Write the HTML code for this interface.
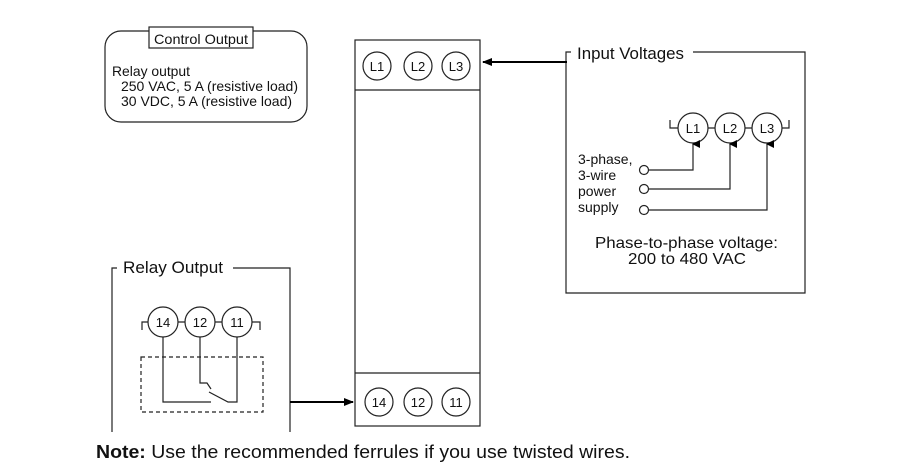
<!DOCTYPE html>
<html><head><meta charset="utf-8"><style>
html,body{margin:0;padding:0;background:#fff;width:900px;height:474px;overflow:hidden}
svg{display:block}
text{font-family:"Liberation Sans",Arial,sans-serif;fill:#111}
</style></head><body>
<svg width="900" height="474" viewBox="0 0 900 474" xmlns="http://www.w3.org/2000/svg">
<defs><marker id="ah" markerWidth="10" markerHeight="8" refX="9" refY="4" orient="auto" markerUnits="userSpaceOnUse"><path d="M0,0 L10,4 L0,8 z" fill="#000"/></marker>
<marker id="sa" markerWidth="8" markerHeight="8" refX="4" refY="1" orient="auto" markerUnits="userSpaceOnUse"><path d="M0,8 L4,0 L8,8 z" fill="#000"/></marker></defs>
<g fill="none" stroke="#222" stroke-width="1.2">
<rect x="105" y="31" width="202" height="91" rx="16" ry="16"/>
<rect x="149" y="27" width="104" height="21" fill="#fff"/>
<rect x="355" y="40" width="125" height="386"/>
<line x1="355" y1="90" x2="480" y2="90"/>
<line x1="355" y1="373" x2="480" y2="373"/>
<circle cx="377" cy="66" r="14"/><circle cx="418" cy="66" r="14"/><circle cx="456" cy="66" r="14"/>
<circle cx="379" cy="402" r="14"/><circle cx="418" cy="402" r="14"/><circle cx="456" cy="402" r="14"/>
<path d="M571,52 L566,52 L566,293 L805,293 L805,52 L693,52"/>
<circle cx="693" cy="128" r="15"/><circle cx="730" cy="128" r="15"/><circle cx="767" cy="128" r="15"/>
<path d="M670,120 L670,128 L678,128 M708,128 L715,128 M745,128 L752,128 M782,128 L789,128 L789,120"/>
<circle cx="644" cy="170" r="4.5"/><circle cx="644" cy="189" r="4.5"/><circle cx="644" cy="210" r="4.5"/>
<path d="M649,170 L693,170 L693,144" marker-end="url(#sa)"/>
<path d="M649,189 L730,189 L730,144" marker-end="url(#sa)"/>
<path d="M649,210 L767,210 L767,144" marker-end="url(#sa)"/>
<path d="M117,268 L112,268 L112,432 M290,432 L290,268 L233,268"/>
<circle cx="163" cy="322" r="15"/><circle cx="200" cy="322" r="15"/><circle cx="237" cy="322" r="15"/>
<path d="M142,330 L142,322 L148,322 M178,322 L185,322 M215,322 L222,322 M252,322 L260,322 L260,330"/>
<rect x="141" y="357" width="122" height="55" stroke-dasharray="4,3"/>
<path d="M163,337 L163,402 L211,402"/>
<path d="M200,337 L200,383 L207,383 L211,389"/>
<path d="M237,337 L237,402 L228,402 L209,392"/>
</g>
<line x1="567" y1="62" x2="483" y2="62" stroke="#000" stroke-width="2" marker-end="url(#ah)"/>
<line x1="290" y1="402" x2="353" y2="402" stroke="#000" stroke-width="2" marker-end="url(#ah)"/>
<g font-size="14">
<text x="154" y="44" textLength="94" lengthAdjust="spacingAndGlyphs">Control Output</text>
<text x="112" y="76" textLength="78" lengthAdjust="spacingAndGlyphs">Relay output</text>
<text x="121" y="91" textLength="177" lengthAdjust="spacingAndGlyphs">250 VAC, 5 A (resistive load)</text>
<text x="121" y="106" textLength="171" lengthAdjust="spacingAndGlyphs">30 VDC, 5 A (resistive load)</text>
</g>
<g font-size="13" text-anchor="middle">
<text x="377" y="71">L1</text><text x="418" y="71">L2</text><text x="456" y="71">L3</text>
<text x="379" y="407">14</text><text x="418" y="407">12</text><text x="456" y="407">11</text>
<text x="693" y="133">L1</text><text x="730" y="133">L2</text><text x="767" y="133">L3</text>
<text x="163" y="327">14</text><text x="200" y="327">12</text><text x="237" y="327">11</text>
</g>
<text x="577" y="59" font-size="17" textLength="107" lengthAdjust="spacingAndGlyphs">Input Voltages</text>
<text x="123" y="273" font-size="17" textLength="100" lengthAdjust="spacingAndGlyphs">Relay Output</text>
<g font-size="14">
<text x="578" y="164">3-phase,</text><text x="578" y="180">3-wire</text>
<text x="578" y="196">power</text><text x="578" y="212">supply</text>
</g>
<g font-size="16">
<text x="595" y="248" textLength="183" lengthAdjust="spacingAndGlyphs">Phase-to-phase voltage:</text>
<text x="628" y="264" textLength="118" lengthAdjust="spacingAndGlyphs">200 to 480 VAC</text>
</g>
<text x="96" y="458" font-size="18" textLength="534" lengthAdjust="spacingAndGlyphs"><tspan font-weight="bold">Note:</tspan> Use the recommended ferrules if you use twisted wires.</text>
</svg>
</body></html>
